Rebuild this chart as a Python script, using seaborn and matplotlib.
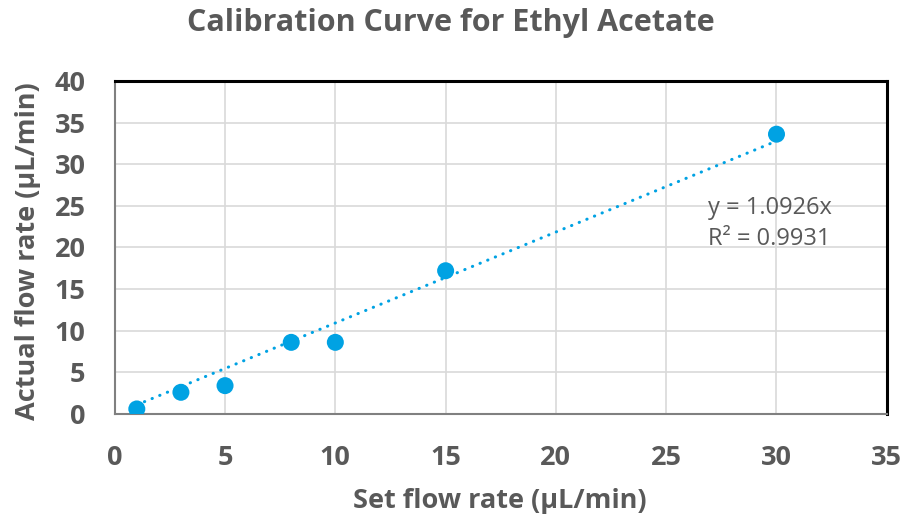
import matplotlib
matplotlib.use("Agg")
import matplotlib.pyplot as plt
import seaborn as sns
import numpy as np
import pandas as pd

set_rate = [1, 3, 5, 8, 10, 15, 30]
actual_rate = [0.6, 2.6, 3.4, 8.6, 8.6, 17.2, 33.6]
slope = 1.0926
r2 = 0.9931
x_ticks = [0, 5, 10, 15, 20, 25, 30, 35]
y_ticks = [0, 5, 10, 15, 20, 25, 30, 35, 40]

sns.set_theme(style="white")
plt.rcParams['font.family'] = ['Open Sans', 'DejaVu Sans']

grey = "#595959"
blue = "#00A2E3"

fig = plt.figure(figsize=(9.18, 5.22), dpi=100)
ax = fig.add_axes([0.125, 0.207, 0.841, 0.638])

df = pd.DataFrame({"x": set_rate, "y": actual_rate})
xmin, xmax = min(set_rate), max(set_rate)
trend = pd.DataFrame({"x": [xmin, xmax], "y": [slope * xmin, slope * xmax]})

sns.lineplot(data=trend, x="x", y="y", ax=ax, color=blue, lw=2.2,
             linestyle=(0, (0.1, 2.6)), dash_capstyle="round", zorder=2)
sns.scatterplot(data=df, x="x", y="y", ax=ax, color=blue, s=150,
                edgecolor="none", zorder=3)

ax.set_xlim(0, 35)
ax.set_ylim(0, 40)
ax.set_xticks(x_ticks)
ax.set_yticks(y_ticks)
ax.grid(True, color="#d9d9d9", lw=1.2)
ax.set_axisbelow(True)
ax.tick_params(axis="x", which="both", length=0, pad=22, labelsize=19.5,
               labelcolor=grey)
ax.tick_params(axis="y", which="both", length=0, pad=21, labelsize=19.5,
               labelcolor=grey)
for lab in ax.get_xticklabels() + ax.get_yticklabels():
    lab.set_fontweight("bold")

for s in ["top", "right"]:
    ax.spines[s].set_color("black")
    ax.spines[s].set_linewidth(2.2)
for s in ["left", "bottom"]:
    ax.spines[s].set_color("#808080")
    ax.spines[s].set_linewidth(1.5)

ax.set_xlabel("")
ax.set_ylabel("")
fig.text(0.545, 0.040, "Set flow rate (µL/min)", ha="center", va="center",
         fontsize=19.5, fontweight="bold", color=grey)
fig.text(0.030, 0.519, "Actual flow rate (µL/min)", ha="center", va="center",
         rotation=90, fontsize=19.5, fontweight="bold", color=grey)
fig.text(0.491, 0.955, "Calibration Curve for Ethyl Acetate", ha="center",
         va="center", fontsize=22, fontweight="bold", color=grey)

ax.text(26.9, 24.7, f"y = {slope}x", ha="left", va="center", fontsize=17,
        color=grey)
ax.text(26.9, 21.0, f"R² = {r2}", ha="left", va="center", fontsize=17,
        color=grey)

fig.savefig("out.png", dpi=100)
